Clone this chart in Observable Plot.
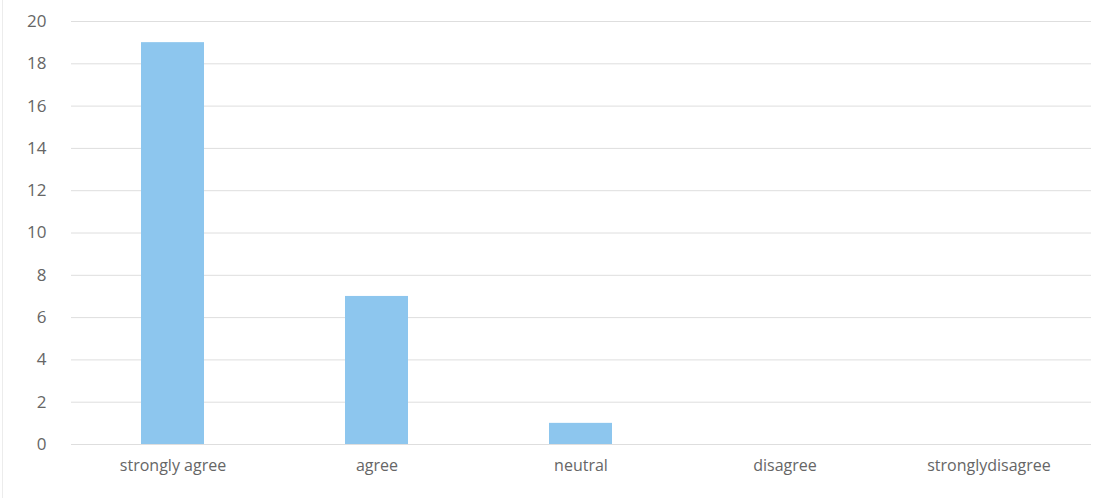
<!DOCTYPE html>
<html>
<head>
<meta charset="utf-8">
<script src="https://cdn.jsdelivr.net/npm/d3@7"></script>
<script src="https://cdn.jsdelivr.net/npm/@observablehq/plot@0.6"></script>
<style>
  html, body { margin: 0; padding: 0; background: #fff; }
  #chart { position: relative; width: 1096px; height: 498px; }
  #frame { position: absolute; left: 2px; top: 0; width: 1px; height: 498px; background: #ececec; }
  svg { display: block; }
</style>
</head>
<body>
<div id="chart"><div id="frame"></div></div>
<script>
const categories = ["strongly agree", "agree", "neutral", "disagree", "stronglydisagree"];
const counts = [19, 7, 1, 0, 0];
const yTicks = [0, 2, 4, 6, 8, 10, 12, 14, 16, 18, 20];

const data = categories.map((c, i) => ({category: c, count: counts[i]}));

const chart = Plot.plot({
  width: 1096,
  height: 498,
  marginTop: 21,
  marginBottom: 54,
  marginLeft: 71,
  marginRight: 5,
  style: {fontFamily: "'Open Sans', sans-serif", fontSize: "16px", color: "#666666", background: "transparent"},
  x: {domain: categories, label: null, paddingInner: 0.69, paddingOuter: 0.345},
  y: {domain: [0, 20], label: null},
  marks: [
    Plot.gridY(yTicks, {stroke: "#dedede", strokeOpacity: 1, strokeWidth: 1}),
    Plot.barY(data, {x: "category", y: "count", fill: "#8dc6ee"}),
    Plot.axisX({tickSize: 0, tickPadding: 15, fontSize: 16, label: null}),
    Plot.axisY(yTicks, {tickSize: 0, tickPadding: 25, fontSize: 17, label: null})
  ]
});
document.getElementById("chart").appendChild(chart);
</script>
</body>
</html>
